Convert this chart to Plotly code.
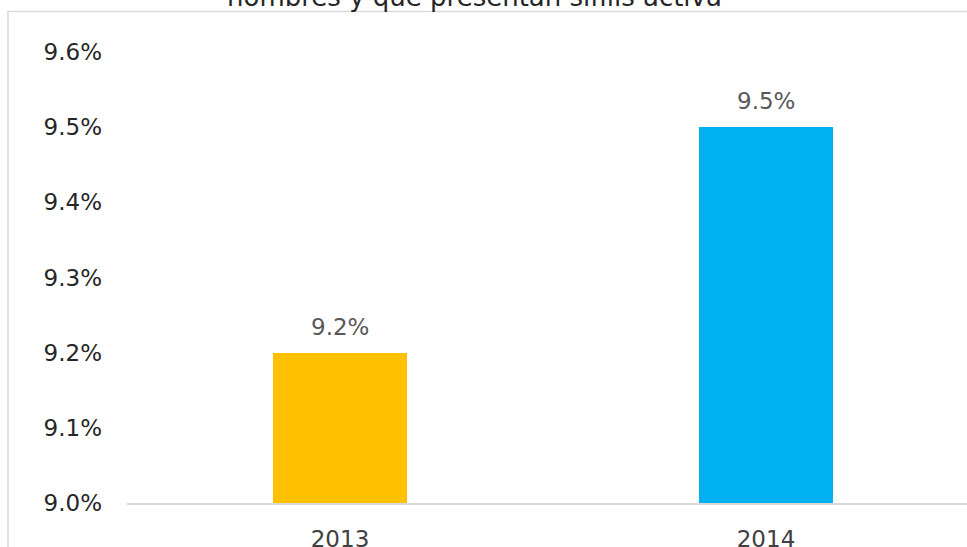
import plotly.graph_objects as go

years = ["2013", "2014"]
values = [9.2, 9.5]
colors = ["#FFC000", "#00B0F0"]
y_ticks = [9.0, 9.1, 9.2, 9.3, 9.4, 9.5, 9.6]
y_tick_labels = ["9.0%", "9.1%", "9.2%", "9.3%", "9.4%", "9.5%", "9.6%"]
title_text = "hombres y que presentan sífilis activa"

W, H = 967, 547
ML, MR, MT, MB = 127, 0, 52, 44
pw = W - ML - MR
ph = H - MT - MB

def px_x(p):
    return (p - ML) / pw

def px_y(p):
    return (H - MB - p) / ph

FONT = "DejaVu Sans"

fig = go.Figure()
fig.add_trace(go.Bar(
    x=years, y=values, marker=dict(color=colors, line=dict(width=0)),
    width=0.315, showlegend=False, hoverinfo="skip",
))

for i, v in enumerate(values):
    fig.add_annotation(
        x=i, y=v, xref="x", yref="y", text=f"{v:.1f}%", showarrow=False,
        yanchor="bottom", yshift=11,
        font=dict(family=FONT, size=23, color="#595959"),
    )

fig.add_annotation(
    x=px_x(474), y=px_y(-3), xref="paper", yref="paper", text=title_text,
    showarrow=False, xanchor="center", yanchor="middle",
    font=dict(family=FONT, size=26, color="#262626"),
)

fig.add_shape(
    type="rect", xref="paper", yref="paper",
    x0=px_x(8), x1=px_x(1000), y0=px_y(600), y1=px_y(11.5),
    line=dict(color="#d9d9d9", width=1.5), fillcolor="rgba(0,0,0,0)", layer="below",
)

fig.update_layout(
    width=W, height=H,
    margin=dict(l=ML, r=MR, t=MT, b=MB, autoexpand=False),
    paper_bgcolor="white", plot_bgcolor="white",
    bargap=0,
    xaxis=dict(
        type="category",
        range=[-0.5, (967 - 340) / 426], showgrid=False, zeroline=False,
        showline=True, linecolor="#d9d9d9", linewidth=2,
        ticks="", ticklabelstandoff=14,
        tickfont=dict(family=FONT, size=23, color="#404040"),
    ),
    yaxis=dict(
        range=[9.0, 9.6], tickvals=y_ticks, ticktext=y_tick_labels,
        showgrid=False, zeroline=False, showline=False, ticks="",
        ticklabelstandoff=24,
        tickfont=dict(family=FONT, size=23, color="#262626"),
    ),
)

fig.write_html("out.html")
